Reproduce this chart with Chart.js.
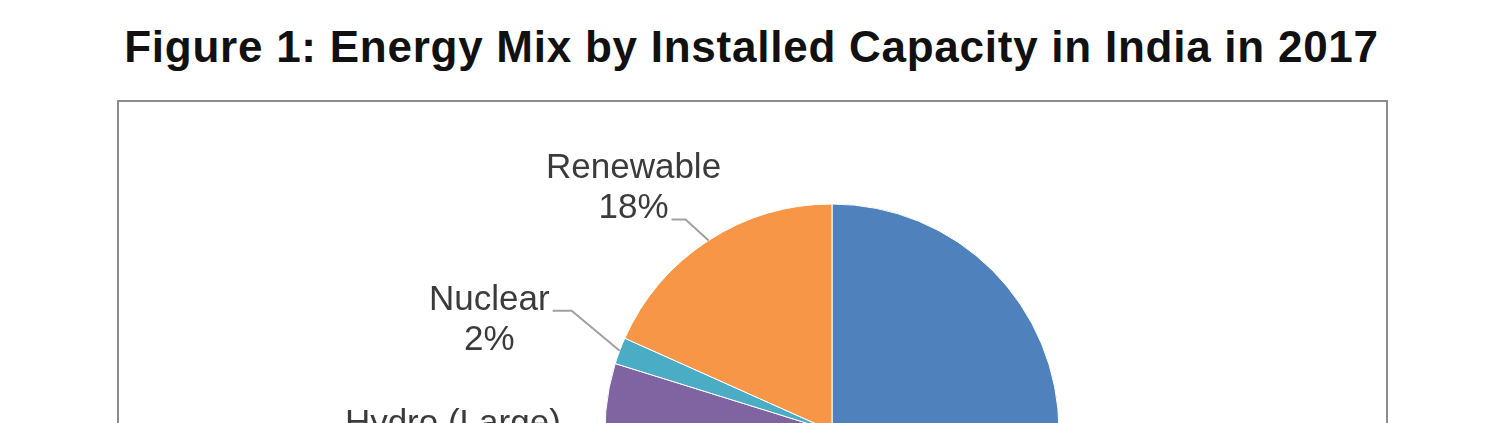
<!DOCTYPE html>
<html>
<head>
<meta charset="utf-8">
<script src="https://cdn.jsdelivr.net/npm/chart.js@4"></script>
<style>
    html, body { margin: 0; padding: 0; background: #fff; overflow: hidden; width: 1493px; height: 423px; }
    #title {
        position: absolute; left: 5px; top: 25px; width: 1493px;
        text-align: center; font: bold 44px "Liberation Sans", Arial, sans-serif;
        letter-spacing: 0.75px;
        line-height: 44px; color: #111; white-space: nowrap;
    }
    #frame {
        position: absolute; left: 117px; top: 100px; width: 1271px; height: 800px;
        box-sizing: border-box; border: 2px solid #8c8c8c;
    }
    #pie { position: absolute; left: 0; top: 0; }
</style>
</head>
<body>
<div id="title">Figure 1: Energy Mix by Installed Capacity in India in 2017</div>
<div id="frame"></div>
<canvas id="pie" width="1493" height="900"></canvas>
<script>
(function () {

    // Data (share of installed capacity, %)
    const categories = ["Coal", "Gas", "Diesel", "Hydro (Large)", "Nuclear", "Renewable"];
    const shares = [58.3, 7.6, 0.3, 13.6, 1.9, 18.3];
    const sliceColors = ["#4F81BD", "#C0504D", "#9BBB59", "#8064A2", "#4BACC6", "#F79646"];

    const pctText = i => Math.round(shares[i]) + "%";

    // Excel style labels: category on one line, percent below, short leader line
    const leaderLabels = {
        id: "leaderLabels",
        afterDatasetsDraw(chart, args, opts) {
            const ctx = chart.ctx;
            const meta = chart.getDatasetMeta(0);
            ctx.save();
            ctx.font = opts.font;
            meta.data.forEach((arc, i) => {
                const p = arc.getProps(["x", "y", "startAngle", "endAngle", "outerRadius"], true);
                const mid = (p.startAngle + p.endAngle) / 2;
                const ex = p.x + Math.cos(mid) * p.outerRadius;
                const ey = p.y + Math.sin(mid) * p.outerRadius;
                const lay = opts.layout[i];
                const side = Math.cos(mid) < 0 ? -1 : 1;
                const bx = ex + side * Math.abs(lay.dx);
                const by = ey + lay.dy;
                const hx = bx + side * lay.run;

                ctx.strokeStyle = opts.lineColor;
                ctx.lineWidth = opts.lineWidth;
                ctx.beginPath();
                ctx.moveTo(ex, ey);
                ctx.lineTo(bx, by);
                ctx.lineTo(hx, by);
                ctx.stroke();

                const lines = [categories[i], pctText(i)];
                const w = ctx.measureText(lines[lay.line]).width;
                const cx = hx + side * (opts.gap + w / 2);
                const base = by + opts.baselineShift - lay.line * opts.lineHeight;
                ctx.fillStyle = opts.color;
                ctx.textAlign = "center";
                ctx.textBaseline = "alphabetic";
                lines.forEach((t, k) => ctx.fillText(t, cx, base + k * opts.lineHeight));
            });
            ctx.restore();
        }
    };

    new Chart(document.getElementById("pie").getContext("2d"), {
        type: "pie",
        data: {
            labels: categories,
            datasets: [{
                data: shares,
                backgroundColor: sliceColors,
                borderColor: "#ffffff",
                borderWidth: 1
            }]
        },
        options: {
            responsive: false,
            animation: false,
            radius: 227,
            layout: { padding: { left: 171, right: 0, top: 0, bottom: 38 } },
            plugins: {
                legend: { display: false },
                tooltip: { enabled: false },
                leaderLabels: {
                    font: "35px 'Liberation Sans', Arial, sans-serif",
                    color: "#3b3b3b",
                    lineColor: "#a0a0a0",
                    lineWidth: 2,
                    lineHeight: 40,
                    gap: 3,
                    baselineShift: -1,
                    layout: [
                        { dx: 30, dy: 30, run: 14, line: 0 },
                        { dx: 25, dy: 25, run: 14, line: 0 },
                        { dx: 25, dy: 20, run: 14, line: 0 },
                        { dx: 29, dy: -24, run: 14, line: 0 },
                        { dx: 48, dy: -40, run: 19, line: 0 },
                        { dx: 23, dy: -21, run: 14, line: 1 }
                    ]
                }
            }
        },
        plugins: [leaderLabels]
    });
})();
</script>
</body>
</html>
